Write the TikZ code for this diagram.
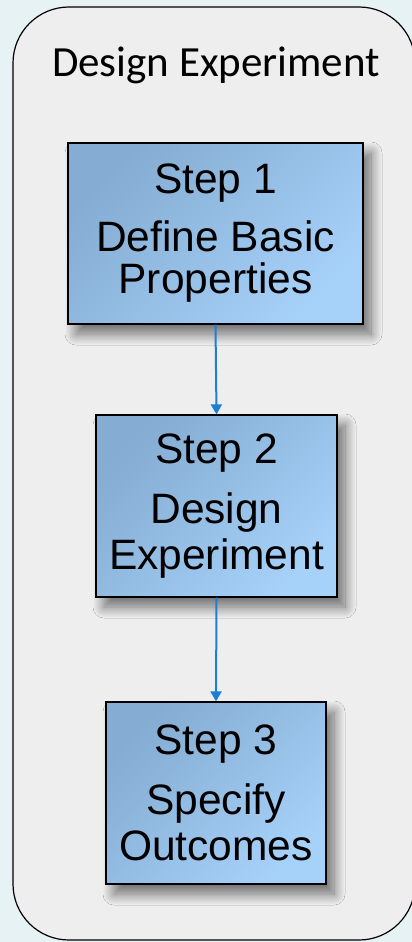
\documentclass[tikz,border=0pt]{standalone}
\usepackage{fontspec}
\setmainfont{Liberation Sans}
\newfontfamily\titlefont{Carlito}
\usetikzlibrary{arrows.meta,shadows.blur}

\definecolor{pagebg}{HTML}{E7F2F5}
\definecolor{panelbg}{HTML}{EEEEEE}
\definecolor{stepdark}{HTML}{85ACD2}
\definecolor{steplight}{HTML}{A6D1F9}
\definecolor{linkblue}{HTML}{1B7FD6}

\tikzset{
  stepbox/.style={
    draw=black, line width=1.2pt,
    top color=stepdark, bottom color=steplight, shading angle=45,
    align=center, inner sep=0pt,
    font=\fontsize{42.5}{42}\selectfont,
    blur shadow={shadow xshift=8pt, shadow yshift=-10pt, shadow blur steps=20,
                 shadow blur radius=11pt, shadow opacity=55}
  },
  widelines/.style={font=\fontsize{42.5}{46}\selectfont},
  link/.style={draw=linkblue, line width=2pt,
    -{Triangle[length=10pt,width=11pt]}},
}

\begin{document}
\begin{tikzpicture}[x=1pt,y=-1pt]
  \useasboundingbox (0,0) rectangle (412,942);
  \fill[pagebg] (0,0) rectangle (412,942);

  % outer container
  \draw[fill=panelbg, line width=1.2pt, rounded corners=56pt]
    (13,7) rectangle (415,940);
  \node[font=\titlefont\fontsize{43}{48}\selectfont] (title) at (216,65) {Design Experiment};

  % steps
  \node[stepbox, minimum width=295pt, minimum height=181pt] (s1) at (215.5,233.5)
    {Step 1\\[16pt]Define Basic\\Properties};
  \node[stepbox, widelines, minimum width=241pt, minimum height=182pt] (s2) at (216.5,506)
    {Step 2\\[14pt]Design\\Experiment};
  \node[stepbox, widelines, minimum width=220pt, minimum height=182pt] (s3) at (216,793)
    {Step 3\\[14pt]Specify\\Outcomes};

  \draw[link] (s1.south) -- (s2.north);
  \draw[link] (s2.south) -- (s3.north);
\end{tikzpicture}
\end{document}
